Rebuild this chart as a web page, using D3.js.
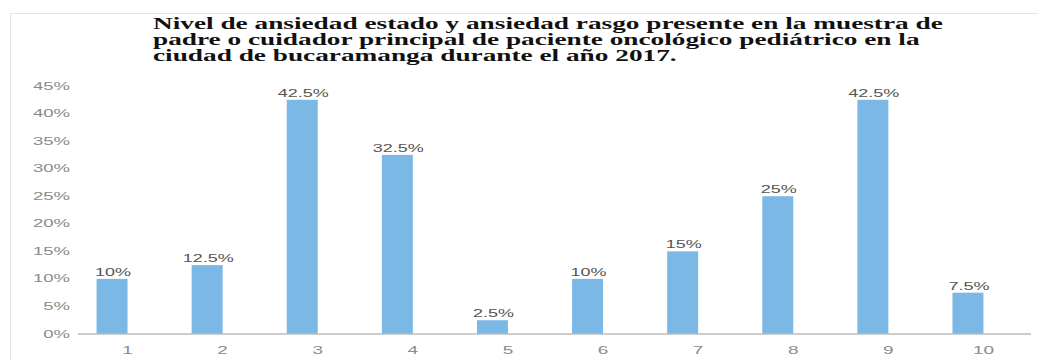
<!DOCTYPE html>
<html>
<head>
<meta charset="utf-8">
<script src="https://cdn.jsdelivr.net/npm/d3@7"></script>
<style>
  html, body { margin: 0; padding: 0; background: #fff; }
  svg { display: block; }
</style>
</head>
<body>
<svg id="chart" width="1038" height="360"></svg>
<script>
// Categories on the x axis and the share (%) in each one
const categories = ["1", "2", "3", "4", "5", "6", "7", "8", "9", "10"];
const values = [10, 12.5, 42.5, 32.5, 2.5, 10, 15, 25, 42.5, 7.5];
const yTicks = [0, 5, 10, 15, 20, 25, 30, 35, 40, 45];
const titleLines = [
  "Nivel de ansiedad estado y ansiedad rasgo presente en la muestra de",
  "padre o cuidador principal de paciente oncológico pediátrico en la",
  "ciudad de bucaramanga durante el año 2017."
];

const svg = d3.select("#chart");

// light frame around the chart area
svg.append("rect")
  .attr("x", 10.5).attr("y", 13.5)
  .attr("width", 1040).attr("height", 360)
  .attr("fill", "none").attr("stroke", "#e4e4e4").attr("stroke-width", 1);

const x = d3.scaleBand().domain(categories).range([80, 1031]).padding(0);
const y = d3.scaleLinear().domain([0, 45]).range([334, 86]);
const barW = 31;
const catCenter = c => x(c) + x.bandwidth() / 2;

// title, bold serif, widened
const title = svg.append("g");
const tLines = title.selectAll("text").data(titleLines).join("text")
  .attr("x", 0)
  .attr("y", (d, i) => 29 + i * 16)
  .attr("font-family", "'Liberation Serif', 'Times New Roman', serif")
  .attr("font-weight", "bold")
  .attr("font-size", 16)
  .attr("fill", "#111")
  .text(d => d);
const w0 = tLines.node().getComputedTextLength();
title.attr("transform", `translate(153,0) scale(${790 / w0},1)`);

// bars sit just left of each category centre
svg.append("g").selectAll("rect").data(values).join("rect")
  .attr("x", (d, i) => catCenter(categories[i]) - barW)
  .attr("y", d => y(d))
  .attr("width", barW)
  .attr("height", d => y(0) - y(d))
  .attr("fill", "#7bb8e6");

// value labels above the bars
svg.append("g").selectAll("text").data(values).join("text")
  .attr("transform", (d, i) => `translate(${catCenter(categories[i]) - barW / 2 + 1},${y(d) - 3}) scale(1.8,1)`)
  .attr("text-anchor", "middle")
  .attr("font-family", "'Liberation Sans', Arial, sans-serif")
  .attr("font-size", 10)
  .attr("fill", "#555")
  .text(d => d + "%");

// baseline
const xAxis = d3.axisBottom(x).tickSize(0).tickFormat(() => "");
svg.append("g")
  .attr("transform", `translate(0,${y(0)})`)
  .call(xAxis)
  .call(g => g.select(".domain").attr("stroke", "#bdbdbd").attr("stroke-width", 1.5)
    .attr("d", "M78,0H1031"));

// category labels
svg.append("g").selectAll("text").data(categories).join("text")
  .attr("transform", c => `translate(${catCenter(c)},354) scale(1.9,1)`)
  .attr("text-anchor", "middle")
  .attr("font-family", "'Liberation Sans', Arial, sans-serif")
  .attr("font-size", 10)
  .attr("fill", "#8a8a8a")
  .text(c => c);

// y axis tick labels
svg.append("g").selectAll("text").data(yTicks).join("text")
  .attr("transform", v => `translate(70,${y(v) + 3.5}) scale(1.85,1)`)
  .attr("text-anchor", "end")
  .attr("font-family", "'Liberation Sans', Arial, sans-serif")
  .attr("font-size", 10)
  .attr("fill", "#8a8a8a")
  .text(v => v + "%");
</script>
</body>
</html>
